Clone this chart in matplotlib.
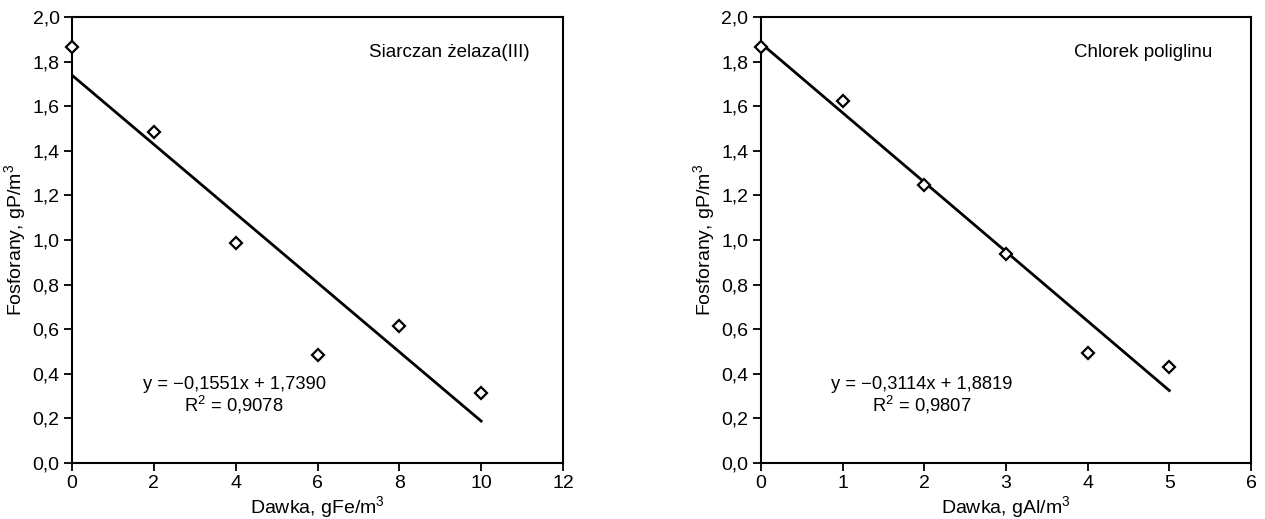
import matplotlib
matplotlib.use("Agg")
import matplotlib.pyplot as plt
import numpy as np

plt.rcParams["font.family"] = ["Liberation Sans", "DejaVu Sans"]
plt.rcParams["mathtext.fontset"] = "custom"
plt.rcParams["mathtext.rm"] = "Liberation Sans"
plt.rcParams["mathtext.default"] = "regular"

# Siarczan zelaza(III)
fe_dose = [0, 2, 4, 6, 8, 10]
fe_p = [1.865, 1.485, 0.985, 0.485, 0.615, 0.315]
fe_slope, fe_icpt = -0.1551, 1.7390
fe_r2 = 0.9078

# Chlorek poliglinu
al_dose = [0, 1, 2, 3, 4, 5]
al_p = [1.865, 1.625, 1.245, 0.935, 0.495, 0.43]
al_slope, al_icpt = -0.3114, 1.8819
al_r2 = 0.9807

def fmt(v):
    return f"{v:.4f}".replace(".", ",")

def panel(ax, x, y, slope, icpt, r2, xmax, xstep, xlabel, name, name_x, eq_x):
    xs = np.array([min(x), max(x)])
    ax.plot(xs, slope * xs + icpt, color="black", lw=2)
    ax.plot(x, y, ls="none", marker="D", ms=6.5, mfc="white", mec="black",
            mew=1.6, clip_on=False, zorder=3)
    ax.set_xlim(0, xmax)
    ax.set_ylim(0, 2.0)
    ax.set_xticks(np.arange(0, xmax + 0.01, xstep))
    yt = np.arange(0, 2.01, 0.2)
    ax.set_yticks(yt)
    ax.set_yticklabels([f"{v:.1f}".replace(".", ",") for v in yt])
    ax.tick_params(direction="out", length=6, width=1.3, labelsize=14, pad=3)
    for s in ax.spines.values():
        s.set_linewidth(1.5)
    ax.set_xlabel(xlabel, fontsize=14, labelpad=1)
    ax.set_ylabel("Fosforany, gP/m$^3$", fontsize=14, labelpad=3)
    ax.text(name_x, 1.84, name, fontsize=13.5, ha="center", va="center")
    sign = "\u2212" if slope < 0 else ""
    ax.text(eq_x, 0.352, f"y = {sign}{fmt(abs(slope))}x + {fmt(icpt)}",
            fontsize=13.2, ha="center", va="center")
    ax.text(eq_x, 0.262, f"R$^2$ = {fmt(r2)}", fontsize=13.2, ha="center", va="center")

W, H = 1265, 519
fig = plt.figure(figsize=(W / 100, H / 100), dpi=100)
ax1 = fig.add_axes([72 / W, 1 - 463 / H, 491 / W, 446 / H])
ax2 = fig.add_axes([761 / W, 1 - 463 / H, 490 / W, 446 / H])

panel(ax1, fe_dose, fe_p, fe_slope, fe_icpt, fe_r2, 12, 2,
      "Dawka, gFe/m$^3$", "Siarczan żelaza(III)", 9.22, 3.96)
panel(ax2, al_dose, al_p, al_slope, al_icpt, al_r2, 6, 1,
      "Dawka, gAl/m$^3$", "Chlorek poliglinu", 4.68, 1.97)

fig.savefig("out.png", dpi=100)
